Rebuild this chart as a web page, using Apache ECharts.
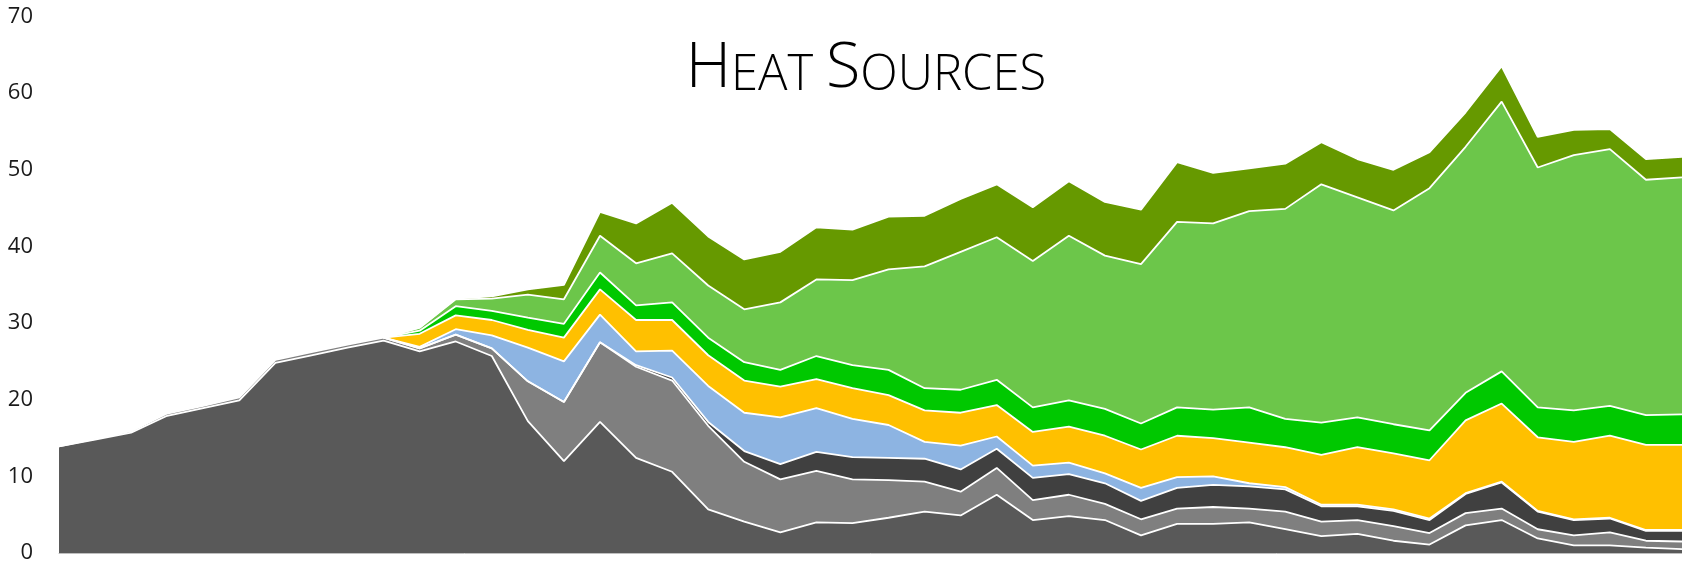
<!DOCTYPE html>
<html>
<head>
<meta charset="utf-8">
<title>Heat Sources</title>
<script src="https://cdn.jsdelivr.net/npm/echarts@6/dist/echarts.min.js"></script>
<style>
  html, body { margin: 0; padding: 0; background: #ffffff; }
  #chart { width: 1682px; height: 564px; }
</style>
</head>
<body>
<div id="chart"></div>
<script>
// Periods along the horizontal axis (not labelled on the chart)
const periods = ['1','2','3','4','5','6','7','8','9','10','11','12','13','14','15','16',
  '17','18','19','20','21','22','23','24','25','26','27','28','29','30','31','32',
  '33','34','35','36','37','38','39','40','41','42','43','44','45','46'];

// Stacked heat-source contributions, bottom layer first ('-' = not yet present)
const darkGrey = [13.9,14.8,15.7,17.9,18.9,19.9,24.8,25.8,26.8,27.7,26.3,27.6,25.7,17.2,12.0,17.1,
  12.4,10.6,5.7,4.1,2.7,4.0,3.9,4.6,5.4,4.9,7.6,4.3,4.8,4.3,2.3,3.8,
  3.8,4.0,3.1,2.2,2.5,1.6,1.1,3.6,4.3,1.9,1.0,1.0,0.7,0.5];
const grey = [0,0.1,0.2,0.3,0.3,0.4,0.4,0.4,0.4,0.4,0.4,0.9,1.0,5.2,7.7,10.4,
  11.9,11.9,10.9,7.8,6.9,6.7,5.7,4.9,3.9,3.1,3.5,2.6,2.8,2.1,2.1,2.0,
  2.2,1.8,2.3,1.9,1.8,1.9,1.5,1.6,1.5,1.2,1.3,1.7,0.9,1.0];
const charcoal = ['-','-','-','-','-','-','-','-','-',0,0,0,0,0,0,0,
  0.2,0.4,0.5,1.4,2.0,2.5,2.9,2.9,3.0,2.9,2.5,2.9,2.7,2.7,2.4,2.7,
  2.9,2.9,2.9,2.0,1.8,2.0,1.7,2.5,3.4,2.3,2.0,1.8,1.3,1.4];
const lightBlue = ['-','-','-','-','-','-','-','-','-',0,0.2,0.7,1.7,4.4,5.3,3.6,
  1.8,3.5,4.7,5.0,6.1,5.7,5.0,4.3,2.2,3.1,1.6,1.6,1.5,1.3,1.7,1.4,
  1.1,0.4,0.3,0.2,0.2,0.2,0.2,0.1,0.1,0.1,0.1,0.1,0.1,0.1];
const gold = ['-','-','-','-','-','-','-','-','-',0,1.7,1.8,2.0,2.3,3.1,3.3,
  4.1,4.0,4.0,4.2,4.0,3.8,4.0,3.9,4.1,4.3,4.1,4.4,4.7,4.9,5.0,5.4,
  5.0,5.3,5.2,6.5,7.5,7.3,7.6,9.5,10.2,9.6,10.1,10.7,11.1,11.1];
const green = ['-','-','-','-','-','-','-','-','-',0,0.4,1.2,1.2,1.6,1.8,2.2,
  1.9,2.3,2.3,2.4,2.2,3.0,3.0,3.3,2.9,3.0,3.3,3.2,3.4,3.5,3.4,3.7,
  3.7,4.6,3.7,4.2,3.9,3.8,3.9,3.6,4.2,3.9,4.1,3.9,3.9,4.0];
const lightGreen = ['-','-','-','-','-','-','-','-','-',0,0.4,0.9,1.6,3.0,3.2,4.8,
  5.5,6.4,6.8,6.9,8.8,10.0,11.1,13.1,15.9,18.0,18.6,19.1,21.5,20.0,20.8,24.2,
  24.3,25.6,27.4,31.1,28.7,27.9,31.6,32.1,35.2,31.3,33.3,33.5,30.7,30.9];
const olive = ['-','-','-','-','-','-','-','-','-',0,0,0.1,0.3,0.7,1.9,3.1,
  5.2,6.6,6.4,6.5,6.6,6.8,6.6,6.9,6.6,6.9,6.9,7.0,7.1,7.0,7.1,7.8,
  6.6,5.6,5.9,5.5,5.0,5.3,4.7,4.5,4.6,4.0,3.3,2.6,2.7,2.7];

const layers = [
  { name: 'darkGrey', data: darkGrey, color: '#595959' },
  { name: 'grey', data: grey, color: '#7f7f7f' },
  { name: 'charcoal', data: charcoal, color: '#404040' },
  { name: 'lightBlue', data: lightBlue, color: '#8db4e2' },
  { name: 'gold', data: gold, color: '#ffc000' },
  { name: 'green', data: green, color: '#00c800' },
  { name: 'lightGreen', data: lightGreen, color: '#6cc64a' },
  { name: 'olive', data: olive, color: '#669900' }
];

const chart = echarts.init(document.getElementById('chart'), null, { renderer: 'canvas' });

// Small-caps title: larger initials, smaller capitals for the rest
const capsBig = { fontFamily: 'Open Sans', fontWeight: 300, fontSize: 63, fill: '#000000', verticalAlign: 'bottom' };
const capsSmall = { fontFamily: 'Open Sans', fontWeight: 300, fontSize: 49, fill: '#000000', verticalAlign: 'bottom' };

chart.setOption({
  animation: false,
  backgroundColor: '#ffffff',
  grid: { left: 59, right: 0, top: 16.5, bottom: 10, containLabel: false },
  graphic: [{
    type: 'text',
    x: 866,
    y: 69,
    style: {
      text: '{big|H}{small|EAT\u00a0}{big|S}{small|OURCES}',
      align: 'center',
      verticalAlign: 'middle',
      rich: { big: capsBig, small: capsSmall }
    }
  }],
  xAxis: {
    type: 'category',
    data: periods,
    boundaryGap: false,
    axisLabel: { show: false },
    axisTick: { show: false },
    axisLine: { show: true, lineStyle: { color: '#bfbfbf', width: 1 } },
    splitLine: { show: false }
  },
  yAxis: {
    type: 'value',
    min: 0,
    max: 70,
    interval: 10,
    axisLine: { show: false },
    axisTick: { show: false },
    splitLine: { show: false },
    axisLabel: {
      margin: 26,
      padding: [5, 0, 0, 0],
      fontFamily: 'Open Sans',
      fontSize: 22,
      color: '#1a1a1a'
    }
  },
  series: layers.map(l => ({
    name: l.name,
    type: 'line',
    stack: 'heat',
    data: l.data,
    showSymbol: false,
    symbol: 'none',
    smooth: false,
    lineStyle: { color: '#ffffff', width: 1.8 },
    areaStyle: { color: l.color, opacity: 1 },
    itemStyle: { color: l.color },
    emphasis: { disabled: true }
  }))
});
</script>
</body>
</html>
